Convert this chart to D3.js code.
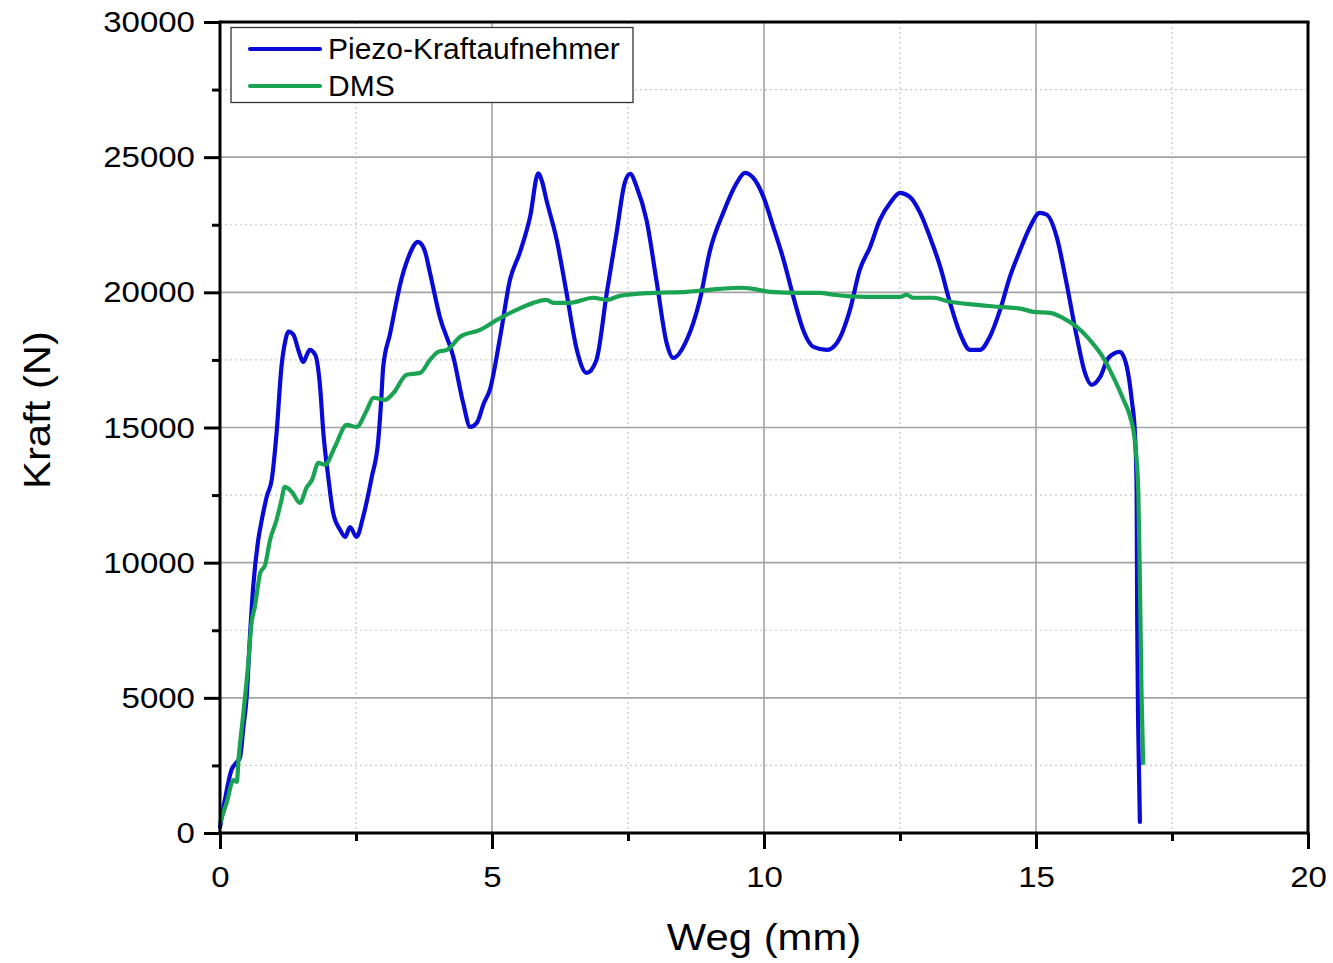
<!DOCTYPE html>
<html>
<head>
<meta charset="utf-8">
<script src="https://cdn.jsdelivr.net/npm/d3@7"></script>
<style>
  html, body { margin: 0; padding: 0; background: #fff; }
  svg { display: block; }
  text { font-family: "Liberation Sans", Arial, Helvetica, sans-serif; fill: #000; }
</style>
</head>
<body>
<svg id="chart" width="1333" height="963"></svg>
<script>
// Force over displacement, two sensors
const piezoWeg = [0, 0.09, 0.21, 0.30, 0.37, 0.43, 0.49, 0.55, 0.61, 0.70, 0.77, 0.86, 0.95, 1.04, 1.13, 1.20, 1.26, 1.35, 1.44, 1.53, 1.60, 1.65, 1.75, 1.84, 1.90, 1.99, 2.08, 2.21, 2.30, 2.39, 2.51, 2.63, 2.79, 2.91, 2.96, 3.00, 3.13, 3.25, 3.31, 3.46, 3.64, 3.68, 3.77, 3.86, 4.04, 4.29, 4.47, 4.60, 4.72, 4.85, 4.96, 5.15, 5.33, 5.51, 5.70, 5.85, 5.92, 6.00, 6.19, 6.37, 6.56, 6.74, 6.92, 7.11, 7.29, 7.44, 7.54, 7.66, 7.84, 8.03, 8.21, 8.33, 8.58, 8.82, 9.01, 9.25, 9.50, 9.65, 9.80, 9.99, 10.17, 10.36, 10.54, 10.72, 10.91, 11.15, 11.34, 11.58, 11.76, 11.95, 12.13, 12.32, 12.50, 12.68, 12.87, 13.05, 13.24, 13.42, 13.60, 13.79, 13.97, 14.15, 14.34, 14.52, 14.71, 14.89, 15.07, 15.20, 15.38, 15.56, 15.75, 15.90, 16.02, 16.18, 16.33, 16.54, 16.67, 16.76, 16.82, 16.85, 16.86, 16.88, 16.91];
const piezoKraft = [220, 1220, 2330, 2600, 2810, 3920, 5030, 7250, 9100, 10800, 11600, 12450, 13060, 14800, 17250, 18200, 18550, 18430, 17870, 17430, 17700, 17870, 17690, 16500, 14800, 13170, 11840, 11210, 10950, 11320, 10950, 11690, 13170, 14540, 15900, 17240, 18500, 19720, 20280, 21280, 21870, 21830, 21500, 20720, 19100, 17610, 15910, 15020, 15170, 15900, 16390, 18350, 20460, 21460, 22790, 24400, 24100, 23420, 21940, 19980, 17870, 17020, 17500, 19980, 22200, 24050, 24380, 23900, 22680, 20350, 18130, 17575, 18240, 19720, 21570, 22940, 24050, 24420, 24240, 23530, 22420, 21200, 19830, 18610, 17980, 17870, 18130, 19350, 20830, 21680, 22680, 23310, 23680, 23530, 22940, 22050, 20940, 19610, 18500, 17870, 17870, 18350, 19350, 20570, 21570, 22420, 22940, 22870, 22050, 20350, 18350, 17020, 16580, 16870, 17570, 17800, 17240, 16020, 14730, 12670, 7880, 3770, 410];

const dmsWeg = [0, 0.12, 0.25, 0.31, 0.34, 0.43, 0.52, 0.58, 0.64, 0.74, 0.83, 0.92, 1.04, 1.13, 1.19, 1.32, 1.47, 1.59, 1.69, 1.81, 1.93, 2.11, 2.33, 2.51, 2.70, 2.82, 3.03, 3.19, 3.43, 3.68, 3.86, 4.01, 4.17, 4.41, 4.78, 5.09, 5.45, 5.76, 6.00, 6.13, 6.43, 6.86, 7.11, 7.35, 7.97, 8.58, 9.19, 9.56, 9.80, 10.11, 10.66, 11.03, 11.27, 11.89, 12.50, 12.62, 12.74, 13.11, 13.42, 13.73, 14.34, 14.71, 14.95, 15.26, 15.50, 15.75, 15.99, 16.24, 16.42, 16.61, 16.73, 16.82, 16.88, 16.91, 16.94, 16.97];
const dmsKraft = [370, 1110, 1960, 1890, 2700, 4440, 6290, 7770, 8360, 9620, 9920, 10840, 11580, 12320, 12800, 12620, 12210, 12770, 13060, 13690, 13620, 14280, 15100, 15020, 15650, 16100, 16020, 16280, 16950, 17020, 17500, 17800, 17870, 18350, 18610, 18980, 19350, 19610, 19720, 19610, 19610, 19800, 19720, 19870, 19980, 20020, 20130, 20170, 20130, 20020, 19980, 19980, 19910, 19830, 19830, 19910, 19800, 19800, 19650, 19570, 19460, 19400, 19280, 19240, 19050, 18720, 18240, 17570, 16870, 16020, 15400, 14440, 12670, 9250, 5140, 2520];

const xMajorTicks = [0, 5, 10, 15, 20];
const xMinorTicks = [2.5, 7.5, 12.5, 17.5];
const yMajorTicks = [0, 5000, 10000, 15000, 20000, 25000, 30000];
const yMinorTicks = [2500, 7500, 12500, 17500, 22500, 27500];

const seriesNames = ["Piezo-Kraftaufnehmer", "DMS"];
const seriesColors = ["#0a0ad8", "#1aa352"];
const xTitle = "Weg (mm)";
const yTitle = "Kraft (N)";

const svg = d3.select("#chart");
const plot = { left: 220, right: 1308, top: 22, bottom: 833 };

const x = d3.scaleLinear().domain([0, 20]).range([plot.left, plot.right]);
const y = d3.scaleLinear().domain([0, 30000]).range([plot.bottom, plot.top]);

// grid: dotted minor, solid major
const grid = svg.append("g");
grid.selectAll(".gxm").data(xMinorTicks).join("line")
  .attr("x1", d => x(d)).attr("x2", d => x(d))
  .attr("y1", plot.top).attr("y2", plot.bottom)
  .attr("stroke", "#c9c9c9").attr("stroke-width", 1.2).attr("stroke-dasharray", "2,3");
grid.selectAll(".gym").data(yMinorTicks).join("line")
  .attr("x1", plot.left).attr("x2", plot.right)
  .attr("y1", d => y(d)).attr("y2", d => y(d))
  .attr("stroke", "#c9c9c9").attr("stroke-width", 1.2).attr("stroke-dasharray", "2,3");
grid.selectAll(".gxM").data(xMajorTicks.filter(d => d > 0 && d < 20)).join("line")
  .attr("x1", d => x(d)).attr("x2", d => x(d))
  .attr("y1", plot.top).attr("y2", plot.bottom)
  .attr("stroke", "#a3a3a3").attr("stroke-width", 1.6);
grid.selectAll(".gyM").data(yMajorTicks.filter(d => d > 0 && d < 30000)).join("line")
  .attr("x1", plot.left).attr("x2", plot.right)
  .attr("y1", d => y(d)).attr("y2", d => y(d))
  .attr("stroke", "#a3a3a3").attr("stroke-width", 1.6);

// curves
const line = d3.line().x(d => x(d[0])).y(d => y(d[1])).curve(d3.curveMonotoneX);
const piezo = piezoWeg.map((w, i) => [w, piezoKraft[i]]);
const dms = dmsWeg.map((w, i) => [w, dmsKraft[i]]);

svg.append("path").datum(piezo).attr("d", line)
  .attr("fill", "none").attr("stroke", seriesColors[0]).attr("stroke-width", 4.2)
  .attr("stroke-linejoin", "round").attr("stroke-linecap", "round");
svg.append("path").datum(dms).attr("d", line)
  .attr("fill", "none").attr("stroke", seriesColors[1]).attr("stroke-width", 4.2)
  .attr("stroke-linejoin", "round").attr("stroke-linecap", "butt");

// frame on top and right
svg.append("line").attr("x1", plot.left).attr("x2", plot.right + 1.5)
  .attr("y1", plot.top).attr("y2", plot.top).attr("stroke", "#000").attr("stroke-width", 3);
svg.append("line").attr("x1", plot.right).attr("x2", plot.right)
  .attr("y1", plot.top).attr("y2", plot.bottom).attr("stroke", "#000").attr("stroke-width", 3);

const labelScale = 1.1;

// bottom axis
const xAxis = svg.append("g").attr("transform", `translate(0,${plot.bottom})`)
  .call(d3.axisBottom(x).tickValues(xMajorTicks).tickSize(16).tickPadding(16.5).tickFormat(d3.format("d")));
svg.append("g").attr("transform", `translate(0,${plot.bottom})`)
  .call(d3.axisBottom(x).tickValues(xMinorTicks).tickSize(8).tickFormat(""))
  .call(g => g.select(".domain").remove());

// left axis
const yAxis = svg.append("g").attr("transform", `translate(${plot.left},0)`)
  .call(d3.axisLeft(y).tickValues(yMajorTicks).tickSize(16).tickPadding(8.5).tickFormat(d3.format("d")));
svg.append("g").attr("transform", `translate(${plot.left},0)`)
  .call(d3.axisLeft(y).tickValues(yMinorTicks).tickSize(8).tickFormat(""))
  .call(g => g.select(".domain").remove());

svg.selectAll(".domain").attr("stroke", "#000").attr("stroke-width", 3);
svg.selectAll(".tick line").attr("stroke", "#000").attr("stroke-width", 3);
xAxis.select(".domain").attr("d", `M${plot.left - 1.5},0H${plot.right + 1.5}`);
yAxis.select(".domain").attr("d", `M0,${plot.top - 1.5}V${plot.bottom + 1.5}`);

svg.selectAll(".tick text")
  .attr("font-family", "Liberation Sans, Arial, sans-serif")
  .attr("font-size", 30).attr("fill", "#000")
  .attr("transform", `scale(${labelScale},1)`);
yAxis.selectAll(".tick text").attr("x", -24.5 / labelScale - 0.5);

// axis titles
svg.append("text")
  .attr("transform", `translate(764,950) scale(1.13,1)`)
  .attr("text-anchor", "middle").attr("font-size", 37).text(xTitle);
svg.append("text")
  .attr("transform", `translate(50,410) rotate(-90) scale(1.13,1)`)
  .attr("text-anchor", "middle").attr("font-size", 37).text(yTitle);

// legend
const legend = svg.append("g");
legend.append("rect").attr("x", 231).attr("y", 27.5).attr("width", 402).attr("height", 75)
  .attr("fill", "#fff").attr("stroke", "#333").attr("stroke-width", 1.3);
const legendRowsY = [49, 86];
seriesNames.forEach((name, i) => {
  legend.append("line").attr("x1", 250).attr("x2", 320)
    .attr("y1", legendRowsY[i]).attr("y2", legendRowsY[i])
    .attr("stroke", seriesColors[i]).attr("stroke-width", 4.2).attr("stroke-linecap", "round");
  legend.append("text").attr("x", 328).attr("y", legendRowsY[i] + 10)
    .attr("font-size", 30).text(name);
});
</script>
</body>
</html>
